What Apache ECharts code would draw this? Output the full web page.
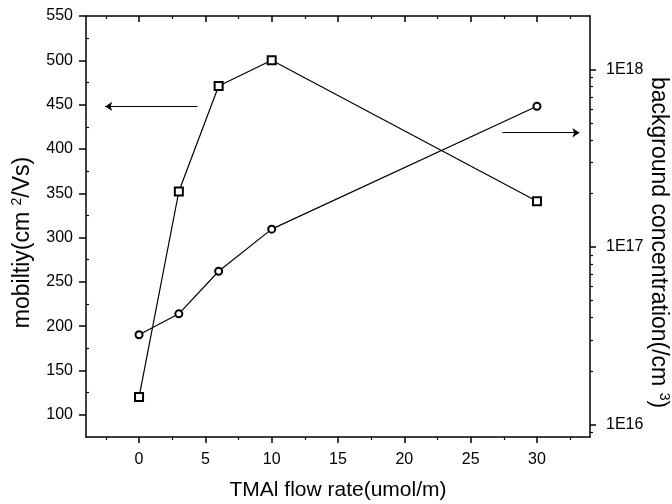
<!DOCTYPE html>
<html><head><meta charset="utf-8">
<script src="https://cdn.jsdelivr.net/npm/echarts@6/dist/echarts.min.js"></script>
<style>html,body{margin:0;padding:0;background:#fff}#c{width:672px;height:504px}</style>
</head><body><div id="c"></div>
<script>
// ---- data ----
const flowRate = [0, 3, 6, 10, 30];
const mobility = [120, 352, 471, 500, 341];
const concentration = [3.2e16, 4.2e16, 7.3e16, 1.26e17, 6.2e17];
// ---- ticks ----
const xTickLabels = [0, 5, 10, 15, 20, 25, 30];
const xMinorTicks = [-2.5, 2.5, 7.5, 12.5, 17.5, 22.5, 27.5, 32.5];
const mobilityTickLabels = [100, 150, 200, 250, 300, 350, 400, 450, 500, 550];
const mobilityMinorTicks = [125, 175, 225, 275, 325, 375, 425, 475, 525];
const concTickLabels = [1e16, 1e17, 1e18];
const concMinorTicks = [9e15, 2e16, 3e16, 4e16, 5e16, 6e16, 7e16, 8e16, 9e16,
                        2e17, 3e17, 4e17, 5e17, 6e17, 7e17, 8e17, 9e17];
// ---- annotation arrows (data coordinates) ----
const leftArrow = [[4.4, 448], [-2.55, 448]];
const rightArrow = [[27.4, 4.4e17], [33.2, 4.4e17]];

const FONT = 'Liberation Sans, Arial, sans-serif';
const BLACK = '#000';
const xRange = {min: -4, max: 34};

function tickAxis(base, opts) {
  return Object.assign({
    splitLine: {show: false},
    axisLine: {show: false, onZero: false},
    axisLabel: {show: false},
    axisPointer: {show: false}
  }, base, opts);
}

const chart = echarts.init(document.getElementById('c'), null, {renderer: 'canvas'});
chart.setOption({
  animation: false,
  backgroundColor: '#fff',
  grid: {left: 86, right: 82, top: 16, bottom: 67, containLabel: false, outerBoundsMode: 'none'},
  xAxis: [
    tickAxis({type: 'value', position: 'bottom'}, Object.assign({}, xRange, {
      axisLine: {show: true, onZero: false, lineStyle: {color: BLACK, width: 1.5}},
      axisTick: {show: true, inside: false, length: 6, customValues: xTickLabels, lineStyle: {color: BLACK, width: 1.5}},
      axisLabel: {show: true, customValues: xTickLabels, color: BLACK, fontSize: 16, fontFamily: FONT, margin: 15},
      name: 'TMAl flow rate(umol/m)', nameLocation: 'middle', nameGap: 43, nameMoveOverlap: false,
      nameTextStyle: {color: BLACK, fontSize: 21, fontFamily: FONT}
    })),
    tickAxis({type: 'value', position: 'bottom'}, Object.assign({}, xRange, {
      axisTick: {show: true, inside: false, length: 3, customValues: xMinorTicks, lineStyle: {color: BLACK, width: 1.2}}
    })),
    tickAxis({type: 'value', position: 'top'}, Object.assign({}, xRange, {
      axisLine: {show: true, onZero: false, lineStyle: {color: BLACK, width: 1.5}},
      axisTick: {show: true, inside: true, length: 6, customValues: xTickLabels, lineStyle: {color: BLACK, width: 1.5}}
    })),
    tickAxis({type: 'value', position: 'top'}, Object.assign({}, xRange, {
      axisTick: {show: true, inside: true, length: 3, customValues: xMinorTicks, lineStyle: {color: BLACK, width: 1.2}}
    }))
  ],
  yAxis: [
    tickAxis({type: 'value', position: 'left'}, {
      min: 75, max: 550,
      axisLine: {show: true, onZero: false, lineStyle: {color: BLACK, width: 1.5}},
      axisTick: {show: true, inside: false, length: 7, customValues: mobilityTickLabels, lineStyle: {color: BLACK, width: 1.5}},
      axisLabel: {show: true, customValues: mobilityTickLabels, color: BLACK, fontSize: 16, fontFamily: FONT, margin: 13},
      name: 'mobiltiy(cm {sup|2}/Vs)', nameLocation: 'middle', nameGap: 51, nameRotate: 90, nameMoveOverlap: false,
      nameTextStyle: {color: BLACK, fontSize: 23, fontFamily: FONT, padding: [0, 32, 0, 0],
        rich: {sup: {fontSize: 14, fontFamily: FONT, color: BLACK, padding: [0, 0, 11, 0]}}}
    }),
    tickAxis({type: 'value', position: 'left'}, {
      min: 75, max: 550,
      axisTick: {show: true, inside: true, length: 3, customValues: mobilityMinorTicks, lineStyle: {color: BLACK, width: 1.2}}
    }),
    tickAxis({type: 'log', logBase: 10, position: 'right'}, {
      min: 8.5e15, max: 2e18,
      axisLine: {show: true, onZero: false, lineStyle: {color: BLACK, width: 1.5}},
      axisTick: {show: true, inside: false, length: 6, customValues: concTickLabels, lineStyle: {color: BLACK, width: 1.5}},
      axisLabel: {show: true, customValues: concTickLabels, color: BLACK, fontSize: 16, fontFamily: FONT, margin: 16,
        formatter: v => '1E' + Math.round(Math.log10(v))},
      name: 'background concentration(/cm {sup|3})', nameLocation: 'middle', nameGap: 56, nameRotate: -90, nameMoveOverlap: false,
      nameTextStyle: {color: BLACK, fontSize: 23, fontFamily: FONT, padding: [0, 0, 0, 32],
        rich: {sup: {fontSize: 14, fontFamily: FONT, color: BLACK, padding: [0, 0, 11, 0]}}}
    }),
    tickAxis({type: 'log', logBase: 10, position: 'right'}, {
      min: 8.5e15, max: 2e18,
      axisTick: {show: true, inside: false, length: 3, customValues: concMinorTicks, lineStyle: {color: BLACK, width: 1.2}}
    })
  ],
  series: [
    {
      name: 'mobility', type: 'line', xAxisIndex: 0, yAxisIndex: 0,
      data: flowRate.map((x, i) => [x, mobility[i]]),
      symbol: 'emptyRect', symbolSize: 8, z: 3,
      itemStyle: {color: BLACK, borderWidth: 1},
      lineStyle: {color: BLACK, width: 1.2},
      markLine: {
        silent: true, symbol: ['none', 'arrow'], symbolSize: 7,
        label: {show: false},
        lineStyle: {color: BLACK, width: 1.2, type: 'solid'},
        data: [[{coord: leftArrow[0]}, {coord: leftArrow[1]}]]
      }
    },
    {
      name: 'background concentration', type: 'line', xAxisIndex: 0, yAxisIndex: 2,
      data: flowRate.map((x, i) => [x, concentration[i]]),
      symbol: 'emptyCircle', symbolSize: 7, z: 3,
      itemStyle: {color: BLACK, borderWidth: 1},
      lineStyle: {color: BLACK, width: 1.2},
      markLine: {
        silent: true, symbol: ['none', 'arrow'], symbolSize: 7,
        label: {show: false},
        lineStyle: {color: BLACK, width: 1.2, type: 'solid'},
        data: [[{coord: rightArrow[0]}, {coord: rightArrow[1]}]]
      }
    }
  ]
});
</script></body></html>
